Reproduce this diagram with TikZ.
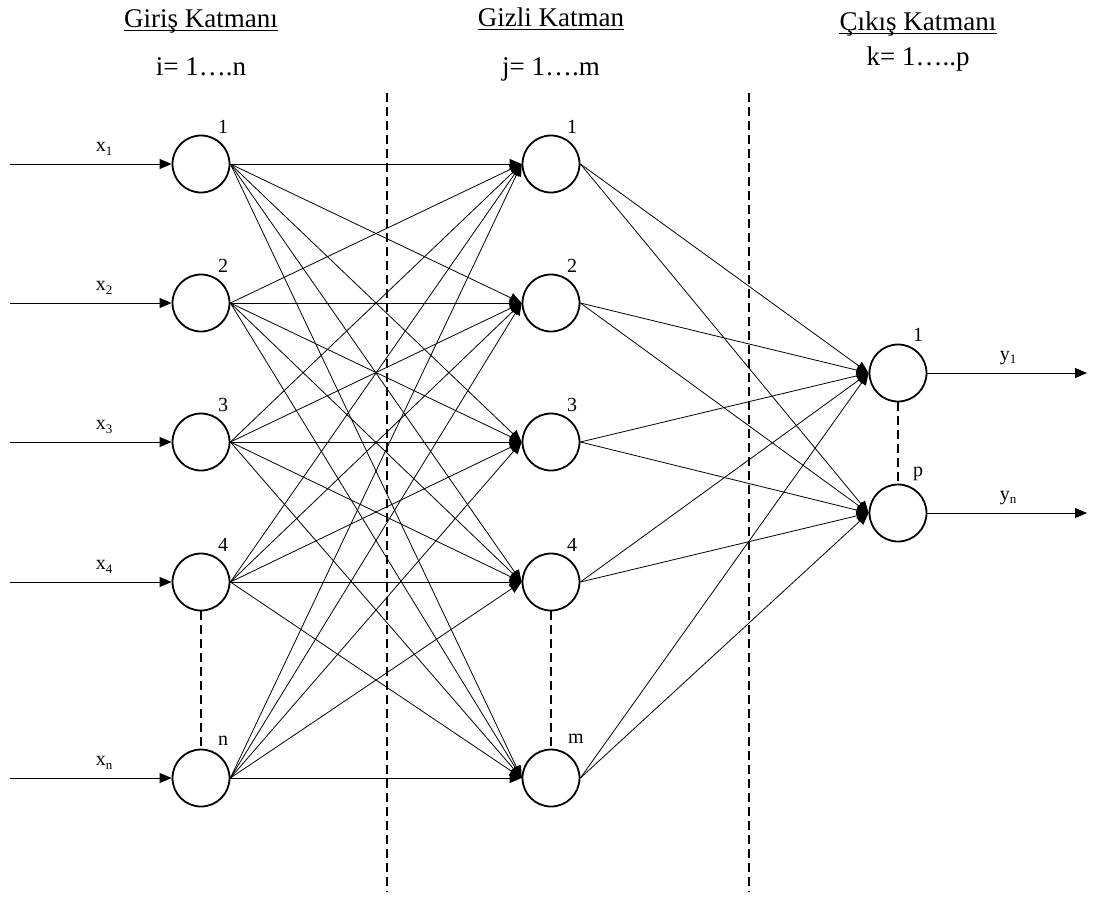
\documentclass[tikz,border=0pt]{standalone}
\usepackage{fontspec}
\setmainfont{Liberation Serif}
\usetikzlibrary{arrows.meta}
\newcommand{\ttl}{\fontsize{27}{31}\selectfont}
\newcommand{\lbl}{\fontsize{20}{22}\selectfont}
\newcommand{\subl}[1]{\raisebox{-0.35ex}{\fontsize{13}{13}\selectfont #1}}
\begin{document}
\begin{tikzpicture}[x=1pt,y=-1pt,
  neuron/.style={circle,draw,line width=1.8pt,minimum size=57pt,inner sep=0pt},
  conn/.style={line width=0.8pt,-{Triangle[length=12pt,width=10pt]}},
  sep/.style={line width=1.8pt,dash pattern=on 9pt off 5pt},
  dots/.style={line width=1.8pt,dash pattern=on 9pt off 5pt},
  title/.style={anchor=base,inner sep=0pt,font=\ttl},
  uline/.style={line width=1.1pt},
  numl/.style={inner sep=0pt,font=\lbl},
  sigl/.style={inner sep=0pt,font=\lbl}]
\useasboundingbox (0,0) rectangle (1097,898);
% titles
\node[title] (t1) at (201,27) {Giriş Katmanı};
\node[title] (t1b) at (201,75) {i= 1….n};
\node[title] (t2) at (551,26) {Gizli Katman};
\node[title] (t2b) at (551,75) {j= 1….m};
\node[title] (t3) at (918,30) {Çıkış Katmanı};
\node[title] (t3b) at (918,65) {k= 1…..p};
\draw[uline] ([yshift=-3.5pt]t1.base west) -- ([yshift=-3.5pt]t1.base east);
\draw[uline] ([yshift=-3.5pt]t2.base west) -- ([yshift=-3.5pt]t2.base east);
\draw[uline] ([yshift=-3.5pt]t3.base west) -- ([yshift=-3.5pt]t3.base east);
% separators
\coordinate (s1a) at (387,93); \coordinate (s1b) at (387,892);
\coordinate (s2a) at (749,93); \coordinate (s2b) at (749,892);
\draw[sep] (s1a) -- (s1b);
\draw[sep] (s2a) -- (s2b);
% input nodes
\foreach \n/\y/\t in {1/164/1,2/303/2,3/442/3,4/582/4,5/778/n}{
  \node[neuron] (i\n) at (201,\y) {};
  \node[numl] (il\n) at (223,\y-37) {\t};
  \node[neuron] (h\n) at (551,\y) {};
  \coordinate (in\n) at (10,\y);
  \draw[conn] (in\n) -- (i\n.west);
}
\node[numl] (hl1) at (572,127) {1};
\node[numl] (hl2) at (572,266) {2};
\node[numl] (hl3) at (572,405) {3};
\node[numl] (hl4) at (572,545) {4};
\node[numl] (hl5) at (576,739) {m};
\node[sigl] (x1) at (104,149) {x\subl{1}};
\node[sigl] (x2) at (104,288) {x\subl{2}};
\node[sigl] (x3) at (104,427) {x\subl{3}};
\node[sigl] (x4) at (104,567) {x\subl{4}};
\node[sigl] (x5) at (104,763) {x\subl{n}};
% output nodes
\node[neuron] (o1) at (898,373) {};
\node[neuron] (o2) at (898,513) {};
\node[numl] (ol1) at (918,335) {1};
\node[numl] (ol2) at (918,474) {p};
\coordinate (out1) at (1087,373);
\coordinate (out2) at (1087,513);
\draw[conn] (o1.east) -- (out1);
\draw[conn] (o2.east) -- (out2);
\node[sigl] (y1) at (1008,358) {y\subl{1}};
\node[sigl] (y2) at (1008,498) {y\subl{n}};
% connections
\foreach \a in {1,...,5}{
  \foreach \b in {1,...,5}{
    \draw[conn] (i\a.east) -- (h\b.west);
  }
  \draw[conn] (h\a.east) -- (o1.west);
  \draw[conn] (h\a.east) -- (o2.west);
}
% dashed continuations
\draw[dots] (i4.south) -- (i5.north);
\draw[dots] (h4.south) -- (h5.north);
\draw[dots] (o1.south) -- (o2.north);
\end{tikzpicture}
\end{document}
